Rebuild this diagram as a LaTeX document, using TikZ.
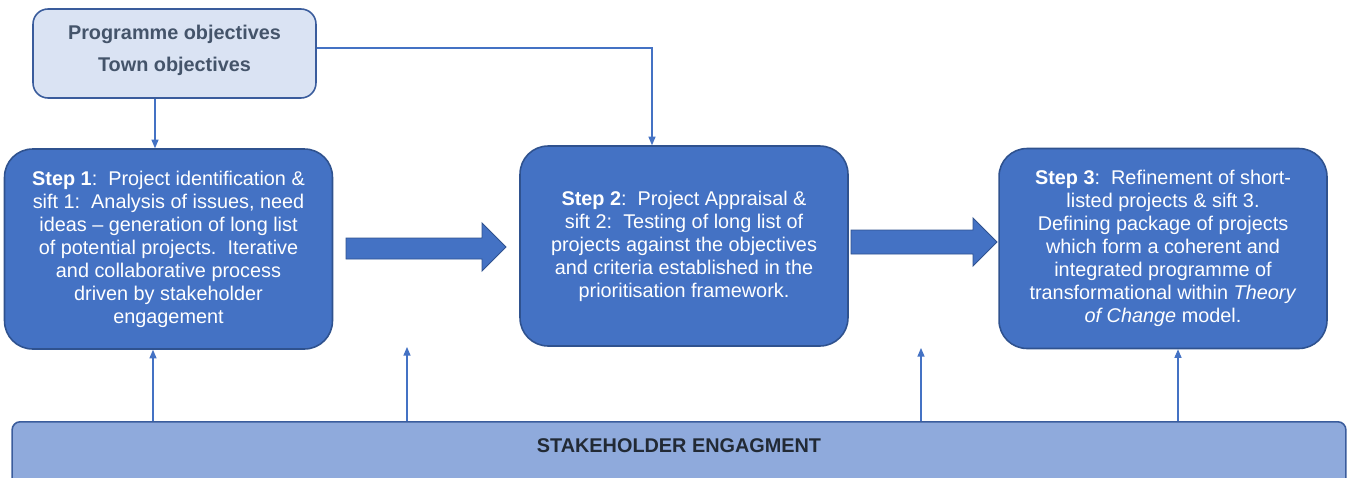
\documentclass[tikz,border=0pt]{standalone}
\usepackage{fontspec}
\setmainfont{Liberation Sans}
\usetikzlibrary{arrows.meta}

\definecolor{stepblue}{HTML}{4472C4}
\definecolor{stepedge}{HTML}{2F528F}
\definecolor{objfill}{HTML}{DAE3F3}
\definecolor{objedge}{HTML}{3A5C9C}
\definecolor{objtext}{HTML}{44546A}
\definecolor{barfill}{HTML}{8FAADC}
\definecolor{bartext}{HTML}{222A35}

\begin{document}
\begin{tikzpicture}[x=0.02cm,y=-0.02cm,
  stepbox/.style={draw=stepedge, line width=0.9pt, fill=stepblue, rounded corners=0.56cm,
    minimum width=6.56cm, minimum height=4cm, inner sep=0pt, text=white, align=center,
    font=\fontsize{11.3}{13.1}\selectfont},
  thinarrow/.style={draw=stepblue, line width=0.6pt, -{Triangle[length=0.17cm,width=0.14cm]}},
  blockarrow/.style={fill=stepblue, draw=stepedge, line width=0.5pt}]

  \clip (0,0) rectangle (1352,477);

  % objectives
  \node[draw=objedge, line width=0.9pt, fill=objfill, rounded corners=0.3cm,
    minimum width=5.66cm, minimum height=1.78cm, inner sep=0pt, text=objtext, align=center,
    text height=1.24cm, text depth=0.54cm,
    font=\fontsize{11.3}{15}\selectfont\bfseries] (objbox) at (174.5,53.5)
    {Programme objectives\\[3pt]Town objectives};

  % the three steps
  \node[stepbox] (step1) at (168.5,249)
    {\textbf{Step 1}:\ \ Project identification \&\\
     sift 1:\ \ Analysis of issues, need\\
     ideas -- generation of long list\\
     of potential projects.\ \ Iterative\\
     and collaborative process\\
     driven by stakeholder\\
     engagement};
  \node[stepbox] (step2) at (684,246)
    {\textbf{Step 2}:\ \ Project Appraisal \&\\
     sift 2:\ \ Testing of long list of\\
     projects against the objectives\\
     and criteria established in the\\
     prioritisation framework.};
  \node[stepbox] (step3) at (1163,248.5)
    {\textbf{Step 3}:\ \ Refinement of short-\\
     listed projects \& sift 3.\\
     Defining package of projects\\
     which form a coherent and\\
     integrated programme of\\
     transformational within \textit{Theory}\\
     \textit{of Change} model.};

  % stakeholder bar
  \node[draw=objedge, line width=0.9pt, fill=barfill, rounded corners=0.16cm,
    anchor=north, minimum width=26.68cm, minimum height=1.38cm, inner sep=0pt,
    text height=0.62cm, text depth=0.76cm, text=bartext,
    font=\fontsize{11.3}{13.1}\selectfont\bfseries] (bar) at (679,421)
    {STAKEHOLDER ENGAGMENT};

  % block arrows
  \filldraw[blockarrow] (346,238) -- (482,238) -- (482,223) -- (506,247)
    -- (482,271) -- (482,259) -- (346,259) -- cycle;
  \filldraw[blockarrow] (851,230) -- (973,230) -- (973,218) -- (997,242)
    -- (973,266) -- (973,254) -- (851,254) -- cycle;

  % thin arrows
  \coordinate (free1) at (407,347);
  \coordinate (free2) at (921,348);
  \draw[thinarrow] (objbox.south -| 155,0) -- (step1.north -| 155,0);
  \draw[thinarrow] (objbox.east |- 0,48) -| (step2.north -| 652,0);
  \draw[thinarrow] (bar.north -| 153,0) -- (step1.south -| 153,0);
  \draw[thinarrow] (bar.north -| 407,0) -- (free1);
  \draw[thinarrow] (bar.north -| 921,0) -- (free2);
  \draw[thinarrow] (bar.north -| 1178,0) -- (step3.south -| 1178,0);
\end{tikzpicture}
\end{document}
